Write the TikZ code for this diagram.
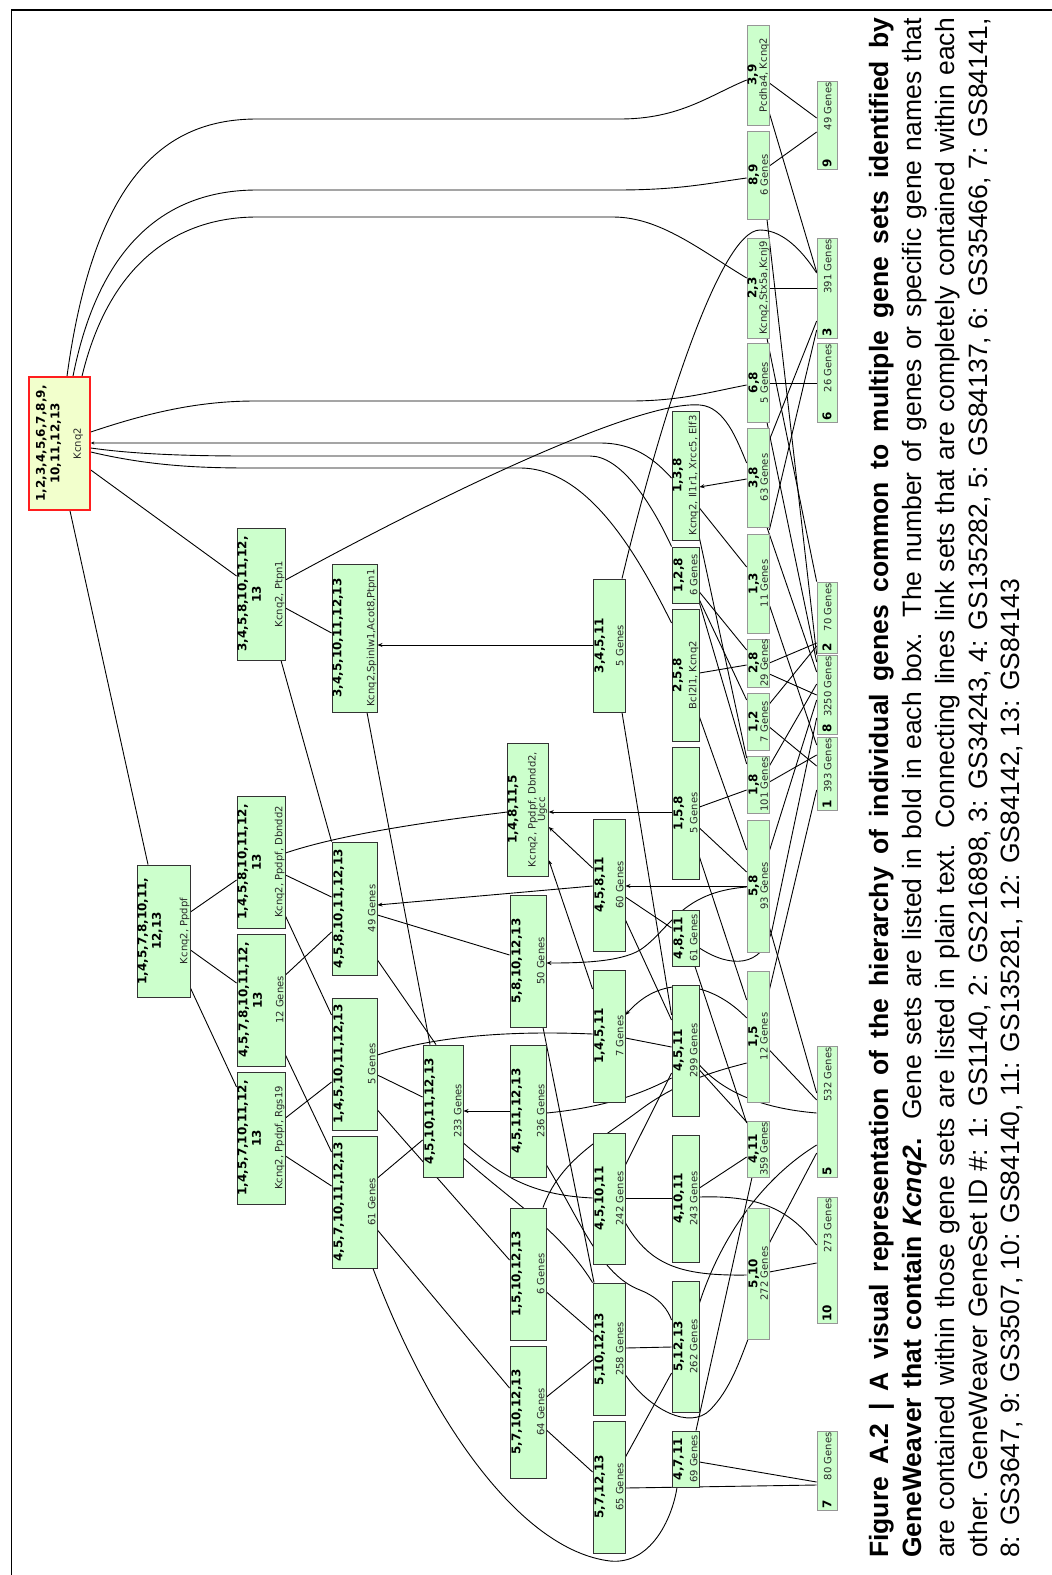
\documentclass[tikz,border=0pt]{standalone}
\usepackage{fontspec}
\setmainfont{DejaVu Sans}
\newfontfamily\capfont{Liberation Sans}
\usepackage{graphicx}
\usetikzlibrary{arrows.meta,backgrounds}
\definecolor{gfill}{RGB}{204,255,204}
\definecolor{gdark}{RGB}{51,51,51}
\definecolor{glight}{RGB}{150,150,150}
\definecolor{rfill}{RGB}{242,255,204}
\definecolor{rred}{RGB}{255,30,30}
\definecolor{ptxt}{RGB}{40,40,40}
\newcommand\gsB{\fontsize{12}{14.5}\selectfont\bfseries\color{black}}
\newcommand\gsP{\fontsize{10}{10.5}\selectfont\mdseries\color{ptxt}}
\newcommand\gnode[8][gs]{%
  \pgfmathsetmacro\gnX{(#3+#5)/2}%
  \pgfmathsetmacro\gnY{(#4+#6)/2}%
  \pgfmathsetmacro\gnW{#5-#3}%
  \pgfmathsetmacro\gnH{#6-#4}%
  \pgfmathsetmacro\gnTW{#6-#4-4}%
  \pgfmathsetmacro\gnTH{#5-#3-3}%
  \node[#1,minimum width=\gnW pt,minimum height=\gnH pt] (#2) at (\gnX,\gnY)
    {\rotatebox{90}{\parbox[c][\gnTH pt][s]{\gnTW pt}{\centering\gsB #7\par\vfill\gsP\makebox[\linewidth]{#8}\par}}};%
}
\newcommand\snode[7]{%
  \pgfmathsetmacro\gnX{(#2+#4)/2}%
  \pgfmathsetmacro\gnY{(#3+#5)/2}%
  \pgfmathsetmacro\gnW{#4-#2}%
  \pgfmathsetmacro\gnH{#5-#3}%
  \pgfmathsetmacro\gnTW{#5-#3-3}%
  \node[gl,minimum width=\gnW pt,minimum height=\gnH pt] (#1) at (\gnX,\gnY)
    {\rotatebox{90}{\makebox[\gnTW pt]{\gsB #6\hfill\gsP #7}}};%
}
\tikzset{
  gs/.style={rectangle,draw=gdark,fill=gfill,line width=0.9pt,inner sep=0pt},
  gl/.style={rectangle,draw=glight,fill=gfill,line width=0.7pt,inner sep=0pt},
  rootbox/.style={rectangle,draw=rred,fill=rfill,line width=1.6pt,inner sep=0pt},
  edge/.style={line width=0.9pt,black},
  arr/.style={edge,-{Stealth[length=5pt,width=4pt]}},
  sarr/.style={edge,-{Stealth[length=3.5pt,width=3pt]}},
  capl/.style={rotate=90,anchor=base west,inner sep=0pt,font=\capfont\fontsize{26.5}{30}\selectfont}
}
\begin{document}
\begin{tikzpicture}[x=1pt,y=-1pt]
\useasboundingbox (0,0) rectangle (1052,1575);
\draw[line width=1.3pt] (11.5,1575) -- (11.5,10) -- (1052,10);

% root
\node[rootbox,minimum width=61pt,minimum height=133pt] (R) at (59.5,443.5)
  {\rotatebox{90}{\parbox[c][45pt][s]{125pt}{\centering\gsB 1,2,3,4,5,6,7,8,9,\\10,11,12,13\par\vfill\gsP Kcnq2\par}}};

\gnode{A}{237}{528}{285}{660}{3,4,5,8,10,11,12,\\13}{Kcnq2, Ptpn1}
\gnode{B}{332}{564}{377}{712}{3,4,5,10,11,12,13}{Kcnq2,Spinlw1,Acot8,Ptpn1}
\gnode{C}{137}{865}{190}{997}{1,4,5,7,8,10,11,\\12,13}{Kcnq2, Ppdpf}
\gnode{D}{237}{796}{285}{928}{1,4,5,8,10,11,12,\\13}{Kcnq2, Ppdpf, Dbndd2}
\gnode{E}{237}{934}{285}{1066}{4,5,7,8,10,11,12,\\13}{12 Genes}
\gnode{F}{237}{1072}{285}{1204}{1,4,5,7,10,11,12,\\13}{Kcnq2, Ppdpf, Rgs19}
\gnode{G}{332}{842}{377}{975}{4,5,8,10,11,12,13}{49 Genes}
\gnode{H}{332}{998}{377}{1130}{1,4,5,10,11,12,13}{5 Genes}
\gnode{I}{332}{1136}{377}{1268}{4,5,7,10,11,12,13}{61 Genes}
\gnode{J}{423}{1045}{463}{1177}{4,5,10,11,12,13}{233 Genes}
\gnode{K}{510}{743}{546}{876}{1,4,8,11,5}{\begin{tabular}{@{}c@{}}Kcnq2, Ppdpf, Dbndd2,\\[-1pt]Ugcc\end{tabular}}
\gnode{L}{510}{895}{546}{1027}{5,8,10,12,13}{50 Genes}
\gnode{M}{510}{1045}{546}{1177}{4,5,11,12,13}{236 Genes}
\gnode{S}{510}{1208}{546}{1340}{1,5,10,12,13}{6 Genes}
\gnode{T}{510}{1346}{546}{1478}{5,7,10,12,13}{64 Genes}
\gnode{N}{593}{579}{625}{712}{3,4,5,11}{5 Genes}
\gnode{O}{593}{819}{625}{951}{4,5,8,11}{60 Genes}
\gnode{P}{593}{970}{625}{1102}{1,4,5,11}{7 Genes}
\gnode{Q}{593}{1133}{625}{1264}{4,5,10,11}{242 Genes}
\gnode{U}{593}{1283}{625}{1415}{5,10,12,13}{258 Genes}
\gnode{V}{593}{1421}{625}{1553}{5,7,12,13}{65 Genes}
\gnode{W}{672}{411}{699}{540}{1,3,8}{Kcnq2, Il1r1, Xrcc5, Elf3}
\gnode{X}{672}{547}{699}{603}{1,2,8}{6 Genes}
\gnode{Y}{672}{609}{699}{741}{2,5,8}{Bcl2l1, Kcnq2}
\gnode{Z}{672}{747}{699}{879}{1,5,8}{5 Genes}
\gnode{na}{672}{910}{699}{966}{4,8,11}{61 Genes}
\gnode{nb}{672}{985}{699}{1116}{4,5,11}{299 Genes}
\gnode{nc}{672}{1135}{699}{1262}{4,10,11}{243 Genes}
\gnode{nd}{672}{1281}{699}{1412}{5,12,13}{262 Genes}
\gnode{ne}{672}{1431}{699}{1487}{4,7,11}{69 Genes}

\gnode[gl]{p39}{747}{25}{769}{125}{3,9}{Pcdha4, Kcnq2}
\gnode[gl]{p89}{747}{131}{769}{219}{8,9}{6 Genes}
\gnode[gl]{p23}{747}{238}{769}{338}{2,3}{Kcnq2,Stx5a,Kcnj9}
\gnode[gl]{p68}{747}{343}{769}{422}{6,8}{5 Genes}
\gnode[gl]{p38}{747}{428}{769}{527}{3,8}{63 Genes}
\gnode[gl]{p13}{747}{534}{769}{633}{1,3}{11 Genes}
\gnode[gl]{p28}{747}{639}{769}{687}{2,8}{29 Genes}
\gnode[gl]{p12}{747}{693}{769}{750}{1,2}{7 Genes}
\gnode[gl]{p18}{747}{756}{769}{813}{1,8}{101 Genes}
\gnode[gl]{p58}{747}{820}{769}{952}{5,8}{93 Genes}
\gnode[gl]{p15}{747}{971}{769}{1102}{1,5}{12 Genes}
\gnode[gl]{p411}{747}{1121}{769}{1177}{4,11}{359 Genes}
\gnode[gl]{p510}{747}{1208}{769}{1339}{5,10}{272 Genes}

\snode{s9}{817}{81}{837}{169}{9}{49 Genes}
\snode{s3}{817}{238}{837}{338}{3}{391 Genes}
\snode{s6}{817}{343}{837}{422}{6}{26 Genes}
\snode{s2}{817}{582}{837}{653}{2}{70 Genes}
\snode{s8}{817}{655}{837}{734}{8}{3250 Genes}
\snode{s1}{817}{737}{837}{810}{1}{393 Genes}
\snode{s5}{817}{1046}{837}{1177}{5}{532 Genes}
\snode{s10}{817}{1197}{837}{1323}{10}{273 Genes}
\snode{s7}{817}{1431}{837}{1510}{7}{80 Genes}

% caption
\node[capl] (cap1) at (888,1558) {\makebox[1540pt][s]{\bfseries Figure A.2 | A visual representation of the hierarchy of individual genes common to multiple gene sets identified by}};
\node[capl] (cap2) at (921,1558) {\makebox[1540pt][s]{\bfseries GeneWeaver that contain \textit{Kcnq2}.\mdseries\ \ Gene sets are listed in bold in each box. The number of genes or specific gene names that}};
\node[capl] (cap3) at (954,1558) {\makebox[1540pt][s]{are contained within those gene sets are listed in plain text. Connecting lines link sets that are completely contained within each}};
\node[capl] (cap4) at (987,1558) {\makebox[1540pt][s]{other. GeneWeaver GeneSet ID \#: 1: GS1140, 2: GS216898, 3: GS34243, 4: GS135282, 5: GS84137, 6: GS35466, 7: GS84141,}};
\node[capl] (cap5) at (1019,1558) {8: GS3647, 9: GS3507, 10: GS84140, 11: GS135281, 12: GS84142, 13: GS84143};

\begin{pgfonlayer}{background}
\begin{scope}[edge]
% root
\draw (R.south -| 70,0) -- (C.north -| 148,0);
\draw (R.east |- 0,470) -- (A.west |- 0,576);
\draw (R.north -| 67,0) .. controls (95,170) and (170,119) .. (257,119) -- (620,119) .. controls (680,119) and (710,95) .. (p39.west |- 0,80);
\draw (R.north -| 73,0) .. controls (100,240) and (170,190) .. (257,190) -- (617,190) .. controls (680,190) and (710,183) .. (p89.west |- 0,178);
\draw (R.north -| 82,0) .. controls (110,260) and (180,217) .. (257,217) -- (613,217) .. controls (660,217) and (700,250) .. (p23.west |- 0,278);
\draw (R.east |- 0,432) .. controls (150,412) and (200,401) .. (255,401) -- (630,401) .. controls (680,401) and (710,392) .. (p68.west |- 0,385);
\draw[sarr] (W.west |- 0,478) .. controls (655,460) and (635,443) .. (600,443) -- (R.east |- 0,443);
\draw (R.east |- 0,448) .. controls (140,455) and (200,456) .. (250,456) -- (590,456) .. controls (620,456) and (650,500) .. (X.north west);
\draw (R.east |- 0,452) .. controls (150,466) and (200,468) .. (250,468) -- (520,468) .. controls (590,468) and (640,560) .. (Y.west |- 0,623);
% A
\draw (A.east |- 0,580) .. controls (450,490) and (640,400) .. (700,405) .. controls (725,407) and (737,440) .. (p38.west |- 0,463);
\draw (A.east |- 0,608) -- (B.west |- 0,633);
\draw (A.south -| 281,0) -- (G.north west);
% B
\draw[arr] (N.west |- 0,645) -- (B.east |- 0,645);
\draw (B.south -| 367,0) -- (J.north -| 430,0);
% C
\draw (C.east |- 0,912) -- (D.west |- 0,880);
\draw (C.east |- 0,950) -- (E.west |- 0,983);
\draw (C.east |- 0,988) -- (F.west |- 0,1087);
% D
\draw (D.east |- 0,853) .. controls (330,838) and (400,825) .. (K.west |- 0,812);
\draw (D.east |- 0,875) -- (G.west |- 0,897);
\draw (D.east |- 0,916) -- (H.west |- 0,1015);
% E
\draw (E.east |- 0,975) -- (G.west |- 0,932);
\draw (E.east |- 0,1055) -- (I.west |- 0,1152);
% F
\draw (F.east |- 0,1118) -- (H.west |- 0,1082);
\draw (F.east |- 0,1156) -- (I.west |- 0,1186);
% G
\draw[arr] (O.west |- 0,886) -- (G.east |- 0,905);
\draw (G.east |- 0,915) -- (L.west |- 0,955);
\draw (G.east |- 0,960) -- (J.north -| 436,0);
% H
\draw (H.east |- 0,1055) .. controls (430,1038) and (500,1030) .. (P.west |- 0,1034);
\draw (H.east |- 0,1075) -- (J.west |- 0,1097);
\draw (H.east |- 0,1110) -- (S.west |- 0,1260);
% I
\draw (I.east |- 0,1178) -- (J.west |- 0,1140);
\draw (I.east |- 0,1230) -- (T.west |- 0,1388);
\draw (I.south -| 373,0) .. controls (430,1420) and (520,1550) .. (610,1561) .. controls (650,1565) and (672,1520) .. (ne.south -| 677,0);
% J
\draw[arr] (M.west |- 0,1111) -- (J.east |- 0,1111);
\draw (J.east |- 0,1143) .. controls (500,1175) and (530,1195) .. (Q.west |- 0,1198);
\draw (J.east |- 0,1158) .. controls (510,1200) and (560,1230) .. (U.north west);
% K
\draw[arr] (O.west |- 0,868) -- (K.east |- 0,827);
\draw[arr] (P.west |- 0,989) -- (K.east |- 0,860);
\draw[arr] (Z.west |- 0,812) -- (K.east |- 0,812);
% L
\draw[arr] (p58.west |- 0,887) .. controls (680,892) and (670,930) .. (640,950) .. controls (620,962) and (580,963) .. (L.east |- 0,963);
\draw (L.south -| 543,0) -- (U.north -| 594,0);
% M
\draw (M.east |- 0,1113) .. controls (600,1108) and (640,1095) .. (nb.west |- 0,1078);
\draw (M.east |- 0,1165) .. controls (580,1220) and (600,1275) .. (640,1290) .. controls (660,1298) and (668,1310) .. (nd.west |- 0,1320);
% N
\draw (N.south -| 622,0) -- (nb.west |- 0,1015);
\draw (N.north -| 622,0) .. controls (660,420) and (720,230) .. (760,230) .. controls (785,230) and (805,255) .. (s3.west |- 0,273);
% O
\draw[arr] (p58.west |- 0,886) -- (O.east |- 0,886);
\draw (O.east |- 0,897) -- (na.west |- 0,928);
\draw (O.east |- 0,920) -- (nb.west |- 0,1020);
% P
\draw (P.east |- 0,1038) -- (nb.west |- 0,1047);
\draw[arr] (p15.west |- 0,1018) .. controls (715,985) and (665,970) .. (P.east |- 0,1015);
% Q
\draw (Q.east |- 0,1165) -- (nb.west |- 0,1073);
\draw (Q.east |- 0,1198) -- (nc.west |- 0,1198);
\draw (Q.east |- 0,1223) .. controls (650,1265) and (680,1276) .. (p510.west |- 0,1275);
% S
\draw (S.east |- 0,1292) -- (U.west |- 0,1332);
\draw (S.north -| 543,0) .. controls (560,1160) and (600,1140) .. (640,1110) .. controls (680,1080) and (720,1070) .. (p15.west |- 0,1063);
% T
\draw (T.east |- 0,1397) -- (U.west |- 0,1360);
\draw (T.east |- 0,1430) -- (V.west |- 0,1472);
% U
\draw (U.east |- 0,1348) -- (nd.west |- 0,1347);
\draw (U.east |- 0,1375) .. controls (650,1410) and (690,1430) .. (710,1410) .. controls (730,1390) and (740,1360) .. (p510.south -| 748,0);
% V
\draw (V.east |- 0,1457) -- (nd.west |- 0,1373);
\draw (V.east |- 0,1488) -- (s7.west |- 0,1485);
% W
\draw[arr] (p38.west |- 0,479) -- (W.east |- 0,487);
\draw (W.east |- 0,508) -- (p13.west |- 0,567);
\draw (W.east |- 0,538) -- (p18.west |- 0,758);
% X
\draw (X.east |- 0,592) -- (p28.west |- 0,650);
\draw (X.east |- 0,600) -- (p12.west |- 0,700);
\draw (X.east |- 0,603) -- (p18.west |- 0,764);
% Y
\draw (Y.east |- 0,673) -- (p28.west |- 0,665);
\draw (Y.east |- 0,717) -- (p58.west |- 0,850);
% Z
\draw (Z.east |- 0,807) -- (p18.west |- 0,790);
\draw (Z.east |- 0,828) -- (p58.west |- 0,872);
\draw (Z.east |- 0,857) -- (p15.west |- 0,1000);
% 4,8,11
\draw (na.south -| 695,0) -- (p411.west |- 0,1123);
\draw (na.east |- 0,948) .. controls (730,968) and (762,968) .. (772,930) -- (s8.west |- 0,718);
% 4,5,11
\draw (nb.east |- 0,1070) -- (p411.west |- 0,1122);
\draw (nb.east |- 0,1065) .. controls (730,1100) and (780,1110) .. (s5.west |- 0,1113);
% 4,10,11
\draw (nc.east |- 0,1188) -- (p411.west |- 0,1157);
\draw (nc.east |- 0,1197) .. controls (760,1195) and (790,1210) .. (s10.west |- 0,1245);
% 5,12,13
\draw (nd.east |- 0,1303) .. controls (720,1240) and (760,1180) .. (s5.west |- 0,1145);
% 4,7,11
\draw (ne.north -| 696,0) -- (p411.south -| 752,0);
\draw (ne.east |- 0,1462) -- (s7.west |- 0,1482);
% pairs to singles
\draw (p39.east |- 0,83) -- (s9.west |- 0,118);
\draw (p39.east |- 0,113) -- (s3.west |- 0,272);
\draw (p89.east |- 0,166) -- (s9.west |- 0,132);
\draw (p89.south -| 767,0) -- (s8.north west);
\draw (p23.east |- 0,288) -- (s3.west |- 0,288);
\draw (p23.south -| 767,0) -- (s2.north west);
\draw (p68.east |- 0,383) -- (s6.west |- 0,383);
\draw (p68.south -| 767,0) -- (s8.west |- 0,662);
\draw (p38.east |- 0,440) -- (s3.west |- 0,321);
\draw (p38.south -| 767,0) -- (s8.west |- 0,672);
\draw (p13.east |- 0,530) -- (s3.west |- 0,330);
\draw (p13.east |- 0,605) -- (s1.west |- 0,745);
\draw (p28.east |- 0,663) -- (s2.west |- 0,643);
\draw (p28.east |- 0,674) -- (s8.west |- 0,695);
\draw (p12.east |- 0,704) -- (s2.west |- 0,646);
\draw (p12.east |- 0,727) -- (s1.west |- 0,766);
\draw (p18.east |- 0,782) -- (s1.west |- 0,755);
\draw (p18.east |- 0,766) -- (s8.west |- 0,684);
\draw (p58.east |- 0,851) -- (s8.west |- 0,700);
\draw (p58.east |- 0,927) -- (s5.west |- 0,1093);
\draw (p15.east |- 0,990) -- (s1.west |- 0,790);
\draw (p15.east |- 0,1050) -- (s5.west |- 0,1100);
\draw (p510.east |- 0,1243) -- (s5.west |- 0,1153);
\draw (p510.east |- 0,1272) -- (s10.west |- 0,1263);
\end{scope}
\end{pgfonlayer}
\end{tikzpicture}
\end{document}
